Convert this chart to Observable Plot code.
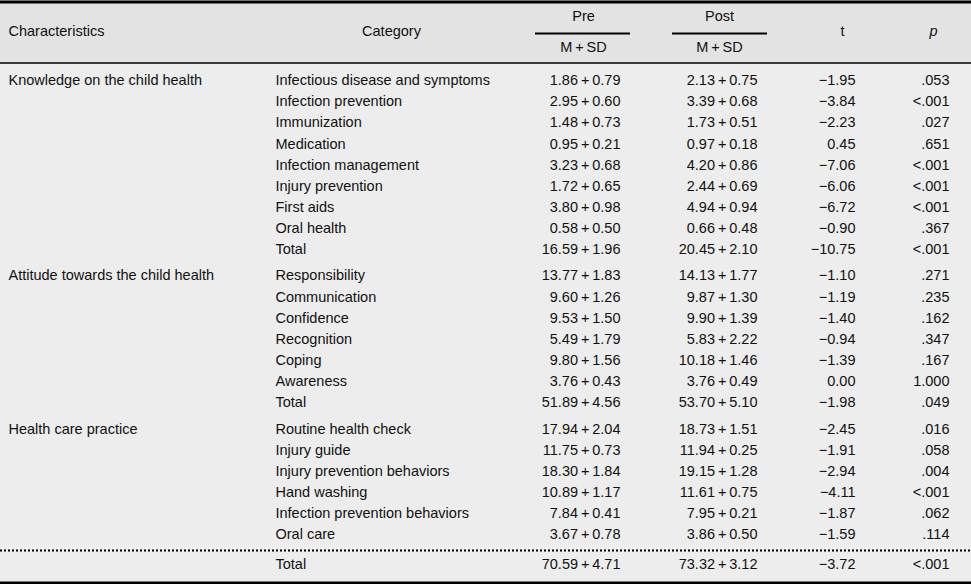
<!DOCTYPE html>
<html>
<head>
<meta charset="utf-8">
<script src="https://cdn.jsdelivr.net/npm/d3@7"></script>
<script src="https://cdn.jsdelivr.net/npm/@observablehq/plot@0.6"></script>
<style>
  html, body { margin: 0; padding: 0; background: #ededed; }
  #chart svg { display: block; }
</style>
</head>
<body>
<div id="chart"></div>
<script>
// ---- data ----
const groups = ["Knowledge on the child health", "Attitude towards the child health", "Health care practice", ""];
const groupOf = [0,0,0,0,0,0,0,0,0, 1,1,1,1,1,1,1, 2,2,2,2,2,2, 3];
const categories = [
  "Infectious disease and symptoms", "Infection prevention", "Immunization", "Medication",
  "Infection management", "Injury prevention", "First aids", "Oral health", "Total",
  "Responsibility", "Communication", "Confidence", "Recognition", "Coping", "Awareness", "Total",
  "Routine health check", "Injury guide", "Injury prevention behaviors", "Hand washing",
  "Infection prevention behaviors", "Oral care",
  "Total"
];
const preM  = [1.86, 2.95, 1.48, 0.95, 3.23, 1.72, 3.80, 0.58, 16.59, 13.77, 9.60, 9.53, 5.49, 9.80, 3.76, 51.89, 17.94, 11.75, 18.30, 10.89, 7.84, 3.67, 70.59];
const preSD = [0.79, 0.60, 0.73, 0.21, 0.68, 0.65, 0.98, 0.50, 1.96, 1.83, 1.26, 1.50, 1.79, 1.56, 0.43, 4.56, 2.04, 0.73, 1.84, 1.17, 0.41, 0.78, 4.71];
const postM  = [2.13, 3.39, 1.73, 0.97, 4.20, 2.44, 4.94, 0.66, 20.45, 14.13, 9.87, 9.90, 5.83, 10.18, 3.76, 53.70, 18.73, 11.94, 19.15, 11.61, 7.95, 3.86, 73.32];
const postSD = [0.75, 0.68, 0.51, 0.18, 0.86, 0.69, 0.94, 0.48, 2.10, 1.77, 1.30, 1.39, 2.22, 1.46, 0.49, 5.10, 1.51, 0.25, 1.28, 0.75, 0.21, 0.50, 3.12];
const tVals = [-1.95, -3.84, -2.23, 0.45, -7.06, -6.06, -6.72, -0.90, -10.75, -1.10, -1.19, -1.40, -0.94, -1.39, 0.00, -1.98, -2.45, -1.91, -2.94, -4.11, -1.87, -1.59, -3.72];
const pVals = [".053", "<.001", ".027", ".651", "<.001", "<.001", "<.001", ".367", "<.001", ".271", ".235", ".162", ".347", ".167", "1.000", ".049", ".016", ".058", ".004", "<.001", ".062", ".114", "<.001"];
const headers = {characteristics: "Characteristics", category: "Category", pre: "Pre", post: "Post", stat: "M\u2009+\u2009SD", t: "t", p: "p"};

// ---- layout ----
const W = 971, H = 584;
const FONT = "Liberation Sans, Arial, sans-serif";
const FS = 14.5;
const X = {char: 8, cat: 275, pre: 620, post: 757, t: 855, p: 949, preC: 583, postC: 719, catC: 391, tC: 842, pC: 933};
const rowY = (i) => {
  const g = groupOf[i];
  if (g === 3) return 564;
  return 80 + i * 21.15 + g * 5;
};
const fmt = (v) => v.toFixed(2);
const fmtT = (v) => (v < 0 ? "\u2212" : "") + Math.abs(v).toFixed(2);
const PLUS = "\u2009+\u2009";

const rows = categories.map((c, i) => ({
  i, cat: c,
  group: (i === 0 || groupOf[i] !== groupOf[i - 1]) ? groups[groupOf[i]] : "",
  pre: fmt(preM[i]) + PLUS + fmt(preSD[i]),
  post: fmt(postM[i]) + PLUS + fmt(postSD[i]),
  t: fmtT(tVals[i]),
  p: pVals[i],
  y: rowY(i)
}));

const headerText = [
  {x: X.char, y: 31, text: headers.characteristics, anchor: "start"},
  {x: X.catC, y: 31, text: headers.category, anchor: "middle"},
  {x: X.preC, y: 16, text: headers.pre, anchor: "middle"},
  {x: X.preC, y: 47, text: headers.stat, anchor: "middle"},
  {x: X.postC, y: 16, text: headers.post, anchor: "middle"},
  {x: X.postC, y: 47, text: headers.stat, anchor: "middle"},
  {x: X.tC, y: 31, text: headers.t, anchor: "middle"},
];

const common = {fontSize: FS, fontFamily: FONT, fill: "#111", lineAnchor: "middle"};

const chart = Plot.plot({
  width: W, height: H,
  margin: 0,
  x: {domain: [0, W], range: [0, W], axis: null},
  y: {domain: [0, H], range: [0, H], axis: null},
  style: {background: "#ededed", fontFamily: FONT},
  marks: [
    Plot.rect([{}], {x1: 0, x2: W, y1: 0, y2: 62, fill: "#e3e3e3"}),
    Plot.ruleY([1.5], {x1: 0, x2: W, stroke: "#000", strokeWidth: 3}),
    Plot.ruleY([62.5], {x1: 0, x2: W, stroke: "#000", strokeWidth: 1.5}),
    Plot.ruleY([33], {x1: 535, x2: 630, stroke: "#000", strokeWidth: 2}),
    Plot.ruleY([33], {x1: 672, x2: 767, stroke: "#000", strokeWidth: 2}),
    Plot.ruleY([550], {x1: 0, x2: W, stroke: "#000", strokeWidth: 2, strokeDasharray: "2,2"}),
    Plot.ruleY([582.5], {x1: 0, x2: W, stroke: "#000", strokeWidth: 3}),
    Plot.text(headerText, {x: "x", y: "y", text: "text", textAnchor: "start", filter: d => d.anchor === "start", ...common}),
    Plot.text(headerText, {x: "x", y: "y", text: "text", textAnchor: "middle", filter: d => d.anchor === "middle", ...common}),
    Plot.text([headers.p], {x: X.pC, y: 31, text: d => d, textAnchor: "middle", fontStyle: "italic", ...common}),
    Plot.text(rows, {x: X.char, y: "y", text: "group", textAnchor: "start", ...common}),
    Plot.text(rows, {x: X.cat, y: "y", text: "cat", textAnchor: "start", ...common}),
    Plot.text(rows, {x: X.pre, y: "y", text: "pre", textAnchor: "end", ...common}),
    Plot.text(rows, {x: X.post, y: "y", text: "post", textAnchor: "end", ...common}),
    Plot.text(rows, {x: X.t, y: "y", text: "t", textAnchor: "end", ...common}),
    Plot.text(rows, {x: X.p, y: "y", text: "p", textAnchor: "end", ...common})
  ]
});
document.getElementById("chart").appendChild(chart);
</script>
</body>
</html>
